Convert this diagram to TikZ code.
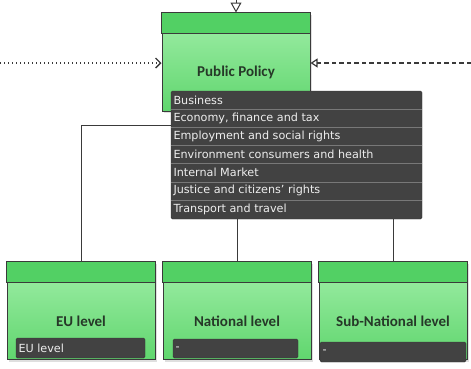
\documentclass[tikz,border=0pt]{standalone}
\usepackage{fontspec}
\setmainfont{Carlito}
\newfontfamily\listfont{DejaVu Sans}
\usetikzlibrary{arrows.meta, positioning, shadows}
\definecolor{headgreen}{RGB}{82,208,100}
\definecolor{bodytop}{RGB}{160,238,168}
\definecolor{bodybot}{RGB}{96,214,110}
\definecolor{listbg}{RGB}{66,66,66}
\definecolor{listsep}{RGB}{120,120,120}
\definecolor{listtext}{RGB}{238,238,238}
\definecolor{frame}{RGB}{58,58,58}
\definecolor{titletext}{RGB}{38,56,40}
\tikzstyle{block} = [rectangle, draw=frame, line width=1pt, minimum width=148pt, minimum height=98pt,
                     inner sep=0pt, top color=bodytop, bottom color=bodybot,
                     drop shadow={shadow xshift=2pt, shadow yshift=-2pt, opacity=0.25}]
\tikzstyle{header} = [draw=frame, line width=1pt, fill=headgreen]
\tikzstyle{title} = [font=\fontsize{15}{17}\selectfont\bfseries, text=titletext]
\tikzstyle{panel} = [rectangle, rounded corners=1.5pt, fill=listbg, draw=listbg!80!black, line width=0.4pt]
\tikzstyle{item} = [anchor=west, inner sep=0pt, text=listtext, font=\listfont\fontsize{11.2}{13}\selectfont]
\tikzstyle{link} = [draw=frame, line width=1pt]

\begin{document}
\begin{tikzpicture}[x=1pt, y=-1pt, node distance=156pt]
  \useasboundingbox (0,0) rectangle (471,368);
  % Connectors behind boxes
  \coordinate (src-l) at (0,63);
  \coordinate (src-r) at (471,63);
  \node (pp)[block] at (236,62) {};
  \draw [link, line width=1.2pt, dash pattern=on 1.2pt off 2.8pt, -{Straight Barb[length=5pt, width=10pt, line width=1.3pt]}] (src-l) -- (src-l -| pp.west);
  \draw [link, line width=1.2pt, dash pattern=on 4.5pt off 3pt, -{Triangle[open, length=7pt, width=9pt, line width=1.2pt]}] (src-r) -- (src-r -| pp.east);
  \draw [link, {Triangle[open, length=10pt, width=11pt]}-] (pp.north) -- ++(0,14pt);
  \draw [header] (pp.north west) rectangle ([yshift=-21pt]pp.north east);
  \node (pp-title)[title] at ([yshift=-10pt]pp.center) {Public Policy};
  % Bottom level boxes
  \node (eu)[block] at (81,310.5) {};
  \node (nat)[block, right of=eu] {};
  \node (sub)[block, right of=nat] {};
  \foreach \b/\t in {eu/EU level, nat/National level, sub/Sub-National level}{
    \draw [header] (\b.north west) rectangle ([yshift=-21pt]\b.north east);
    \node (\b-title)[title] at ([yshift=-10.5pt]\b.center) {\t};
  }
  % Policy list
  \node (list)[panel, minimum width=251pt, minimum height=128pt, inner sep=0pt] at (296.5,155) {};
  \foreach \i/\t in {1/Business, 2/{Economy, finance and tax}, 3/Employment and social rights,
                     4/Environment consumers and health, 5/Internal Market,
                     6/Justice and citizens’ rights, 7/Transport and travel}{
    \node (item\i)[item] at ([xshift=2.5pt, yshift={-9.1pt-18.2pt*(\i-1)}]list.north west) {\t};
  }
  \foreach \i in {1,...,6}{
    \draw [listsep, line width=0.4pt] ([yshift={-18.2pt*\i}]list.north west) -- ([yshift={-18.2pt*\i}]list.north east);
  }
  % Links from list to levels
  \draw [link] (eu.north) |- ([yshift=30pt]list.west);
  \draw [link] (nat.north) -- (nat.north |- list.south);
  \draw [link] (sub.north) -- (sub.north |- list.south);
  % Level labels
  \node (eu-tag)[panel, minimum width=129pt, minimum height=20pt] at (80.5,348) {};
  \node (eu-val)[item] at ([xshift=2.5pt]eu-tag.west) {EU level};
  \node (nat-tag)[panel, minimum width=125pt, minimum height=19pt] at (235.5,348.5) {};
  \node (nat-val)[item] at ([xshift=2.5pt]nat-tag.west) {-};
  \node (sub-tag)[panel, minimum width=146pt, minimum height=20pt] at (393,352) {};
  \node (sub-val)[item] at ([xshift=2.5pt]sub-tag.west) {-};
\end{tikzpicture}
\end{document}
